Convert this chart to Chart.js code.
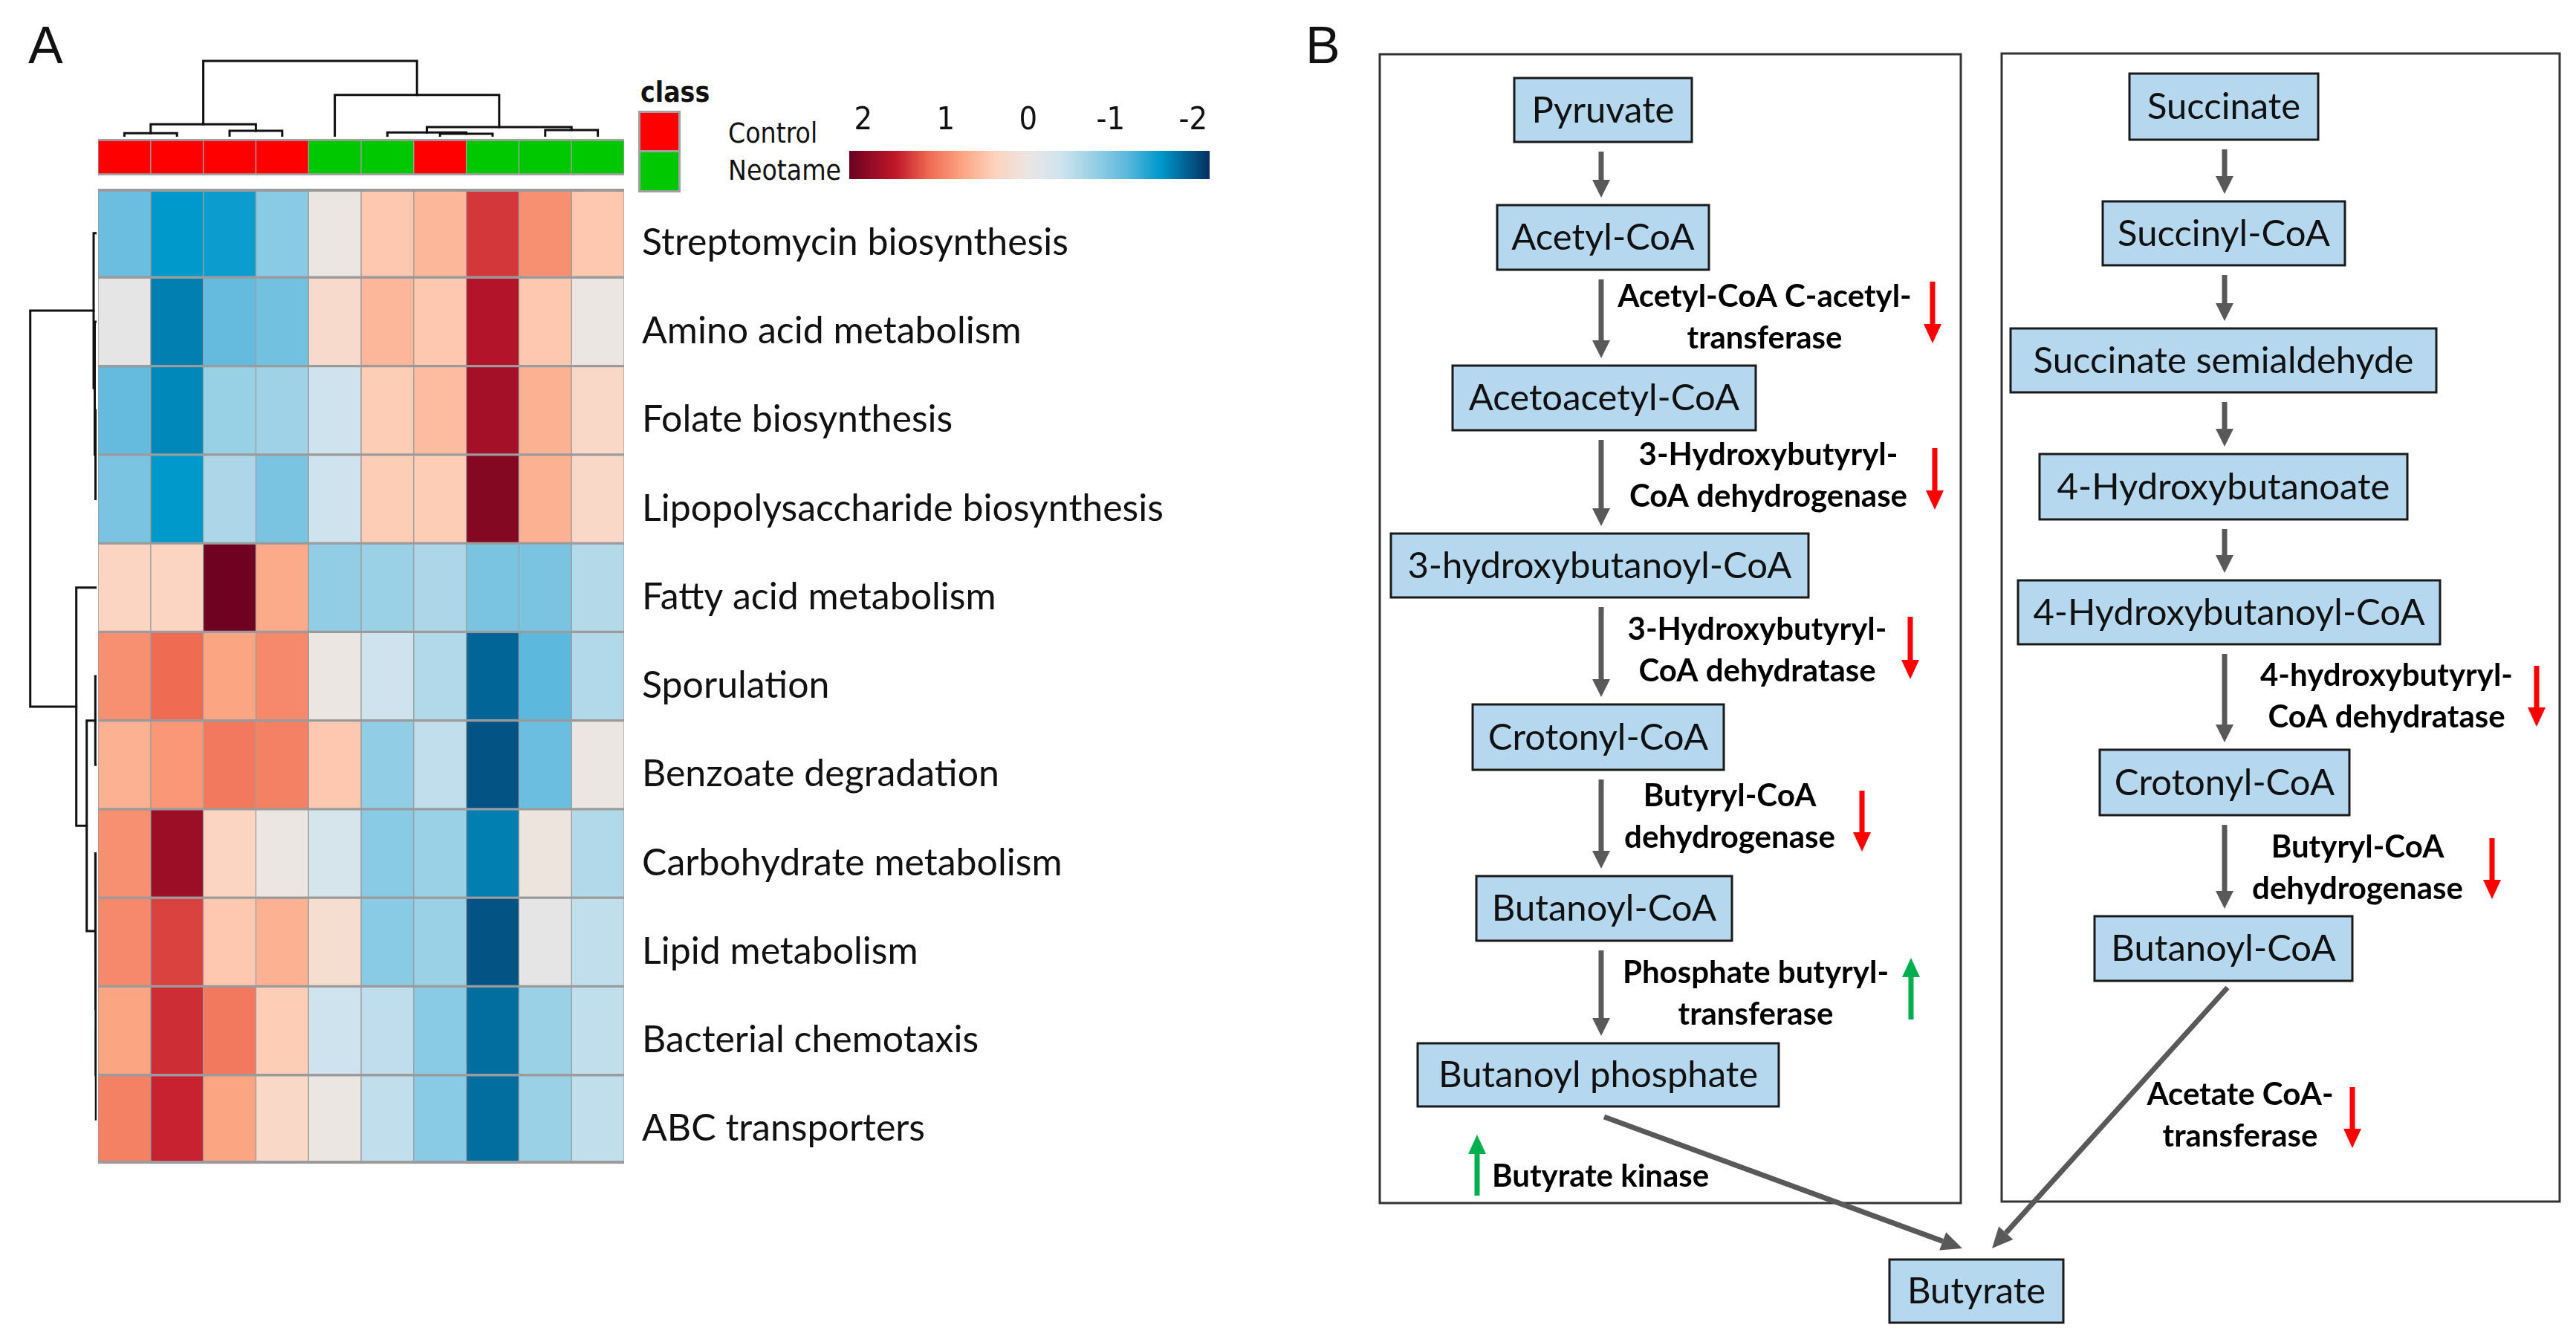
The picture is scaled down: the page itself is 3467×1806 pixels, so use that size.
<!DOCTYPE html>
<html>
<head>
<meta charset="utf-8">
<script src="https://cdn.jsdelivr.net/npm/chart.js@4.4.0/dist/chart.umd.min.js"></script>
<style>
html, body { margin: 0; padding: 0; background: #fff; }
#page { position: relative; width: 3467px; height: 1806px; overflow: hidden; background: #fff; }
.box { position: absolute; }
.txt { position: absolute; white-space: nowrap; line-height: 1; color: #111; }
.narrow { font-family: "Liberation Sans Narrow", "DejaVu Sans Condensed", sans-serif; }
</style>
</head>
<body>
<div id="page">
  <div class="box" style="left:132px;top:78px;width:708px;height:106px"><canvas id="topDendro"></canvas></div>
  <div class="box" style="left:36px;top:254px;width:94px;height:1312px"><canvas id="leftDendro"></canvas></div>
  <div class="box" style="left:132px;top:187px;width:708px;height:49px"><canvas id="classBar"></canvas></div>
  <div class="box" style="left:132px;top:254px;width:1508px;height:1312px"><canvas id="heatmap"></canvas></div>
  <div class="box" style="left:1143px;top:140px;width:485px;height:101px"><canvas id="colorBar"></canvas></div>
  <div class="box" style="left:1740px;top:0px;width:1727px;height:1806px"><canvas id="pathway"></canvas></div>

  <div class="txt" style="left:38px;top:21px;font:70px 'Liberation Sans', Arial, sans-serif">A</div>
  <div class="txt" style="left:1757px;top:21px;font:70px 'Liberation Sans', Arial, sans-serif">B</div>
  <div class="txt narrow" style="left:862px;top:106px;font-size:37px;font-weight:bold">class</div>
  <div class="box" style="left:859px;top:149px;width:57px;height:110px;background:#a0a0a0">
    <div class="box" id="swatchControl" style="left:3px;top:3px;width:51px;height:50px"></div>
    <div class="box" id="swatchNeotame" style="left:3px;top:56px;width:51px;height:51px"></div>
  </div>
  <div class="txt narrow" style="left:980px;top:161px;font-size:37px">Control</div>
  <div class="txt narrow" style="left:980px;top:211px;font-size:37px">Neotame</div>
</div>

<script>
// ---- panel A data ----
const pathways = ['Streptomycin biosynthesis', 'Amino acid metabolism', 'Folate biosynthesis',
  'Lipopolysaccharide biosynthesis', 'Fatty acid metabolism', 'Sporulation', 'Benzoate degradation',
  'Carbohydrate metabolism', 'Lipid metabolism', 'Bacterial chemotaxis', 'ABC transporters'];
const sampleClass = ['Control', 'Control', 'Control', 'Control', 'Neotame', 'Neotame', 'Control', 'Neotame', 'Neotame', 'Neotame'];

// z-scores per pathway, columns in dendrogram order
const streptomycin = [-1.1, -1.6, -1.55, -0.9, 0.0, 0.5, 0.65, 1.45, 0.95, 0.5];
const aminoAcid = [-0.1, -1.75, -1.15, -1.05, 0.25, 0.65, 0.5, 1.7, 0.5, 0.0];
const folate = [-1.15, -1.7, -0.8, -0.75, -0.4, 0.45, 0.6, 1.8, 0.7, 0.3];
const lipopolysaccharide = [-1.0, -1.6, -0.65, -1.0, -0.4, 0.45, 0.45, 2.0, 0.7, 0.3];
const fattyAcid = [0.35, 0.35, 2.15, 0.75, -0.85, -0.78, -0.65, -1.0, -1.0, -0.6];
const sporulation = [0.95, 1.2, 0.8, 1.0, 0.0, -0.4, -0.62, -1.9, -1.2, -0.62];
const benzoate = [0.7, 0.9, 1.1, 1.05, 0.5, -0.85, -0.5, -2.0, -1.1, 0.0];
const carbohydrate = [0.95, 1.85, 0.35, 0.0, -0.3, -0.9, -0.78, -1.75, 0.05, -0.62];
const lipid = [1.0, 1.4, 0.5, 0.7, 0.2, -0.9, -0.78, -2.0, -0.1, -0.5];
const chemotaxis = [0.8, 1.5, 1.1, 0.45, -0.4, -0.52, -0.9, -1.85, -0.78, -0.5];
const abcTransporters = [1.05, 1.55, 0.8, 0.3, 0.0, -0.5, -0.9, -1.85, -0.78, -0.5];

// dendrograms: [childA, childB, height]; L# = leaf, M# = earlier merge
const colMerges = [['L0', 'L1', 4.7], ['L2', 'L3', 8], ['M0', 'M1', 16.7], ['L6', 'L7', 4], ['L5', 'M3', 5.7],
  ['L8', 'L9', 9], ['M4', 'M5', 13], ['L4', 'M6', 56.3], ['M2', 'M7', 102]];
const rowMerges = [['L2', 'L3', 1.5], ['L1', 'M0', 2.5], ['L0', 'M1', 4], ['L5', 'L6', 1.7], ['L9', 'L10', 0.8],
  ['L8', 'M4', 1.2], ['L7', 'M5', 1.7], ['M3', 'M6', 13.3], ['L4', 'M7', 27.3], ['M2', 'M8', 89.3]];

const colorTicks = [2, 1, 0, -1, -2];
const colorStops = [[2.2, '#67001f'], [1.6, '#c2182b'], [1.2, '#ef6b52'], [0.8, '#fca583'], [0.4, '#fdd3bd'],
  [0.0, '#ece6e3'], [-0.4, '#cfe3ee'], [-0.8, '#98d0e6'], [-1.2, '#5cb8dc'], [-1.6, '#0099cc'], [-2.2, '#053061']];
const classColors = { Control: '#ff0000', Neotame: '#00c800' };

// ---- panel B data ----
const leftPathway = ['Pyruvate', 'Acetyl-CoA', 'Acetoacetyl-CoA', '3-hydroxybutanoyl-CoA', 'Crotonyl-CoA', 'Butanoyl-CoA', 'Butanoyl phosphate'];
const leftEnzymes = [null, ['Acetyl-CoA C-acetyl-', 'transferase'], ['3-Hydroxybutyryl-', 'CoA dehydrogenase'],
  ['3-Hydroxybutyryl-', 'CoA dehydratase'], ['Butyryl-CoA', 'dehydrogenase'], ['Phosphate butyryl-', 'transferase']];
const leftChange = [0, -1, -1, -1, -1, 1];
const rightPathway = ['Succinate', 'Succinyl-CoA', 'Succinate semialdehyde', '4-Hydroxybutanoate', '4-Hydroxybutanoyl-CoA', 'Crotonyl-CoA', 'Butanoyl-CoA'];
const rightEnzymes = [null, null, null, null, ['4-hydroxybutyryl-', 'CoA dehydratase'], ['Butyryl-CoA', 'dehydrogenase']];
const rightChange = [0, 0, 0, 0, -1, -1];
const product = 'Butyrate';
const finalEnzymes = [['Butyrate kinase'], ['Acetate CoA-', 'transferase']];
const finalChange = [1, -1];

// layout of the diagram (page pixels)
const flowLayout = {
  frames: [[1857, 73, 2639, 1619], [2694, 72, 3445, 1617]],
  leftBoxes: [[2038, 105, 2277, 191], [2015, 276, 2300, 363], [1955, 492, 2363, 579], [1872, 718, 2434, 804],
    [1982, 948, 2320, 1036], [1987, 1179, 2331, 1266], [1908, 1404, 2394, 1489]],
  leftArrowX: 2155,
  leftLabels: [null, [2375, 413], [2380, 626], [2365, 861], [2328, 1085], [2363, 1323]],
  leftMarks: [null, [2601, 379, 462], [2604, 603, 686], [2571, 830, 914], [2506, 1064, 1146], [2572, 1289, 1372]],
  rightBoxes: [[2866, 99, 3120, 188], [2830, 271, 3156, 357], [2706, 442, 3279, 528], [2745, 611, 3240, 699],
    [2716, 781, 3284, 867], [2826, 1009, 3162, 1097], [2819, 1233, 3166, 1320]],
  rightArrowX: 2994,
  rightLabels: [null, null, null, null, [3212, 923], [3173, 1154]],
  rightMarks: [null, null, null, null, [3414, 896, 978], [3354, 1128, 1210]],
  productBox: [2543, 1695, 2777, 1780],
  finalArrows: [[2159, 1503, 2641, 1680], [2998, 1329, 2681, 1680]],
  finalLabels: [[2008, 1597, 'left'], [3015, 1487, 'center']],
  finalMarks: [[1988, 1527, 1609], [3166, 1463, 1545]],
  lineGap: 56
};

// ---- helpers ----
function hexRgb(h) { return [1, 3, 5].map(i => parseInt(h.slice(i, i + 2), 16)); }
function zColor(v) {
  for (let i = 0; i < colorStops.length - 1; i++) {
    const [v0, c0] = colorStops[i], [v1, c1] = colorStops[i + 1];
    if (v <= v0 && v >= v1) {
      const t = (v0 - v) / (v0 - v1);
      const a = hexRgb(c0), b = hexRgb(c1);
      return 'rgb(' + a.map((x, k) => Math.round(x + (b[k] - x) * t)).join(',') + ')';
    }
  }
  return v > colorStops[0][0] ? colorStops[0][1] : colorStops[colorStops.length - 1][1];
}

function dendroSegments(merges) {
  const pos = [], hgt = [];
  const ref = k => k[0] === 'L' ? { p: +k.slice(1) + 0.5, h: 0 } : { p: pos[+k.slice(1)], h: hgt[+k.slice(1)] };
  return merges.map(([a, b, h], i) => {
    const A = ref(a), B = ref(b);
    pos[i] = (A.p + B.p) / 2; hgt[i] = h;
    return [[A.p, A.h], [A.p, h], [B.p, h], [B.p, B.h]];
  });
}

const heatRows = [streptomycin, aminoAcid, folate, lipopolysaccharide, fattyAcid, sporulation, benzoate,
  carbohydrate, lipid, chemotaxis, abcTransporters];
const base = { responsive: true, maintainAspectRatio: false, animation: false, events: [],
  plugins: { legend: { display: false }, tooltip: { enabled: false } } };
const lineStyle = { showLine: true, pointRadius: 0, borderColor: '#111', borderWidth: 3, tension: 0,
  borderCapStyle: 'square', borderJoinStyle: 'miter', clip: false };

document.getElementById('swatchControl').style.background = classColors.Control;
document.getElementById('swatchNeotame').style.background = classColors.Neotame;

// grey rule along top and bottom of the cell grid
const gridEdges = {
  id: 'gridEdges',
  afterDatasetsDraw(chart) {
    const { ctx, chartArea: a } = chart;
    ctx.save();
    ctx.fillStyle = '#9b9b9b';
    ctx.fillRect(a.left, a.top, a.right - a.left, 4);
    ctx.fillRect(a.left, a.bottom - 4, a.right - a.left, 4);
    ctx.restore();
  }
};

// ---- heatmap ----
new Chart(document.getElementById('heatmap'), {
  type: 'bar',
  data: {
    labels: pathways,
    datasets: sampleClass.map((cls, c) => ({
      label: cls + ' ' + (c + 1),
      data: heatRows.map(() => [c, c + 1]),
      backgroundColor: heatRows.map(row => zColor(row[c])),
      borderColor: '#9b9b9b',
      borderWidth: { top: 2, bottom: 2, left: 1, right: 1 },
      borderSkipped: false,
      barPercentage: 1, categoryPercentage: 1, grouped: false
    }))
  },
  options: Object.assign({}, base, {
    indexAxis: 'y',
    scales: {
      x: { type: 'linear', min: 0, max: 10, display: false },
      y: { position: 'right', grid: { display: false, drawTicks: false }, border: { display: false },
        ticks: { padding: 24, labelOffset: 13, color: '#111', font: { family: 'Lato', size: 50 } },
        afterFit: s => { s.width = 800; s.paddingTop = 0; s.paddingBottom = 0; } }
    }
  }),
  plugins: [gridEdges]
});

// ---- class bar ----
new Chart(document.getElementById('classBar'), {
  type: 'bar',
  data: {
    labels: ['class'],
    datasets: sampleClass.map((cls, c) => ({
      label: cls, data: [[c, c + 1]], backgroundColor: classColors[cls],
      borderColor: '#a0a0a0', borderWidth: { top: 3, bottom: 3, left: 1, right: 1 }, borderSkipped: false,
      barPercentage: 1, categoryPercentage: 1, grouped: false
    }))
  },
  options: Object.assign({}, base, {
    indexAxis: 'y',
    scales: { x: { type: 'linear', min: 0, max: 10, display: false }, y: { display: false } }
  })
});

// ---- dendrograms ----
new Chart(document.getElementById('topDendro'), {
  type: 'scatter',
  data: { datasets: dendroSegments(colMerges).map(s => Object.assign({ data: s.map(([p, h]) => ({ x: p, y: h })) }, lineStyle)) },
  options: Object.assign({}, base, {
    scales: { x: { type: 'linear', min: 0, max: 10, display: false }, y: { type: 'linear', min: 0, max: 106, display: false } }
  })
});
new Chart(document.getElementById('leftDendro'), {
  type: 'scatter',
  data: { datasets: dendroSegments(rowMerges).map(s => Object.assign({ data: s.map(([p, h]) => ({ x: h, y: p })) }, lineStyle)) },
  options: Object.assign({}, base, {
    scales: { x: { type: 'linear', min: 0, max: 94, reverse: true, display: false },
      y: { type: 'linear', min: 0, max: 11, reverse: true, display: false } }
  })
});

// ---- colour key ----
new Chart(document.getElementById('colorBar'), {
  type: 'bar',
  data: {
    labels: ['z'],
    datasets: [{
      data: [[-2.2, 2.17]],
      backgroundColor: ctx => {
        const chart = ctx.chart;
        if (!chart.chartArea) return null;
        const x = chart.scales.x;
        const g = chart.ctx.createLinearGradient(x.getPixelForValue(2.2), 0, x.getPixelForValue(-2.2), 0);
        colorStops.forEach(([v, c]) => g.addColorStop((2.2 - v) / 4.4, c));
        return g;
      },
      borderWidth: 0, barPercentage: 1, categoryPercentage: 1
    }]
  },
  options: Object.assign({}, base, {
    indexAxis: 'y',
    scales: {
      x: { type: 'linear', min: -2.2, max: 2.17, reverse: true, position: 'top',
        grid: { display: false, drawTicks: false }, border: { display: false },
        afterBuildTicks: s => { s.ticks = colorTicks.map(v => ({ value: v })); },
        ticks: { padding: 14, color: '#111', font: { family: "'Liberation Sans Narrow', 'DejaVu Sans Condensed'", size: 43 } },
        afterFit: s => { s.height = 63; s.paddingLeft = 0; s.paddingRight = 0; } },
      y: { display: false }
    }
  })
});

// ---- panel B: pathway diagram drawn on linear page-pixel scales ----
const flowPlugin = {
  id: 'flow',
  afterDatasetsDraw(chart) {
    const { ctx, scales: { x, y } } = chart;
    const px = v => x.getPixelForValue(v), py = v => y.getPixelForValue(v);
    const L = flowLayout;
    ctx.save();

    function rect(r, fill, stroke, lw) {
      const [x0, y0, x1, y1] = r;
      ctx.lineWidth = lw; ctx.strokeStyle = stroke;
      if (fill) { ctx.fillStyle = fill; ctx.fillRect(px(x0), py(y0), px(x1) - px(x0), py(y1) - py(y0)); }
      ctx.strokeRect(px(x0), py(y0), px(x1) - px(x0), py(y1) - py(y0));
    }
    function node(r, text) {
      rect(r, '#b5d8ee', '#1a1a1a', 3);
      ctx.fillStyle = '#111'; ctx.font = '49px Lato'; ctx.textAlign = 'center'; ctx.textBaseline = 'middle';
      ctx.fillText(text, px((r[0] + r[2]) / 2), py((r[1] + r[3]) / 2) + 1);
    }
    function arrow(x0, y0, x1, y1, color, shaft, headW, headL) {
      const a = Math.atan2(py(y1) - py(y0), px(x1) - px(x0));
      const bx = px(x1) - Math.cos(a) * headL, by = py(y1) - Math.sin(a) * headL;
      ctx.strokeStyle = color; ctx.fillStyle = color; ctx.lineWidth = shaft; ctx.lineCap = 'butt';
      ctx.beginPath(); ctx.moveTo(px(x0), py(y0)); ctx.lineTo(bx, by); ctx.stroke();
      ctx.beginPath(); ctx.moveTo(px(x1), py(y1));
      ctx.lineTo(bx + Math.sin(a) * headW / 2, by - Math.cos(a) * headW / 2);
      ctx.lineTo(bx - Math.sin(a) * headW / 2, by + Math.cos(a) * headW / 2);
      ctx.closePath(); ctx.fill();
    }
    function mark(m, change) {
      const color = change > 0 ? '#00b050' : '#ff0000';
      if (change > 0) arrow(m[0], m[2], m[0], m[1], color, 7, 24, 26);
      else arrow(m[0], m[1], m[0], m[2], color, 7, 24, 26);
    }
    function label(lines, pos, align) {
      ctx.fillStyle = '#000'; ctx.font = 'bold 42px Lato'; ctx.textAlign = align || 'center'; ctx.textBaseline = 'alphabetic';
      lines.forEach((t, i) => ctx.fillText(t, px(pos[0]), py(pos[1] + i * L.lineGap)));
    }
    function column(names, boxes, ax, enzymes, labels, marks, changes) {
      names.forEach((n, i) => {
        if (i > 0) {
          arrow(ax, boxes[i - 1][3] + 13, ax, boxes[i][1] - 10, '#595959', 7, 24, 24);
          if (enzymes[i - 1]) { label(enzymes[i - 1], labels[i - 1]); mark(marks[i - 1], changes[i - 1]); }
        }
      });
      names.forEach((n, i) => node(boxes[i], n));
    }

    L.frames.forEach(f => rect(f, null, '#333', 3));
    column(leftPathway, L.leftBoxes, L.leftArrowX, leftEnzymes, L.leftLabels, L.leftMarks, leftChange);
    column(rightPathway, L.rightBoxes, L.rightArrowX, rightEnzymes, L.rightLabels, L.rightMarks, rightChange);
    L.finalArrows.forEach(a => arrow(a[0], a[1], a[2], a[3], '#595959', 7, 26, 28));
    finalEnzymes.forEach((e, i) => { label(e, L.finalLabels[i], L.finalLabels[i][2]); mark(L.finalMarks[i], finalChange[i]); });
    node(L.productBox, product);
    ctx.restore();
  }
};

new Chart(document.getElementById('pathway'), {
  type: 'scatter',
  data: { datasets: [{ data: [] }] },
  options: Object.assign({}, base, {
    layout: { padding: 0 },
    scales: { x: { type: 'linear', min: 1740, max: 3467, display: false },
      y: { type: 'linear', min: 0, max: 1806, reverse: true, display: false } }
  }),
  plugins: [flowPlugin]
});
</script>
</body>
</html>
